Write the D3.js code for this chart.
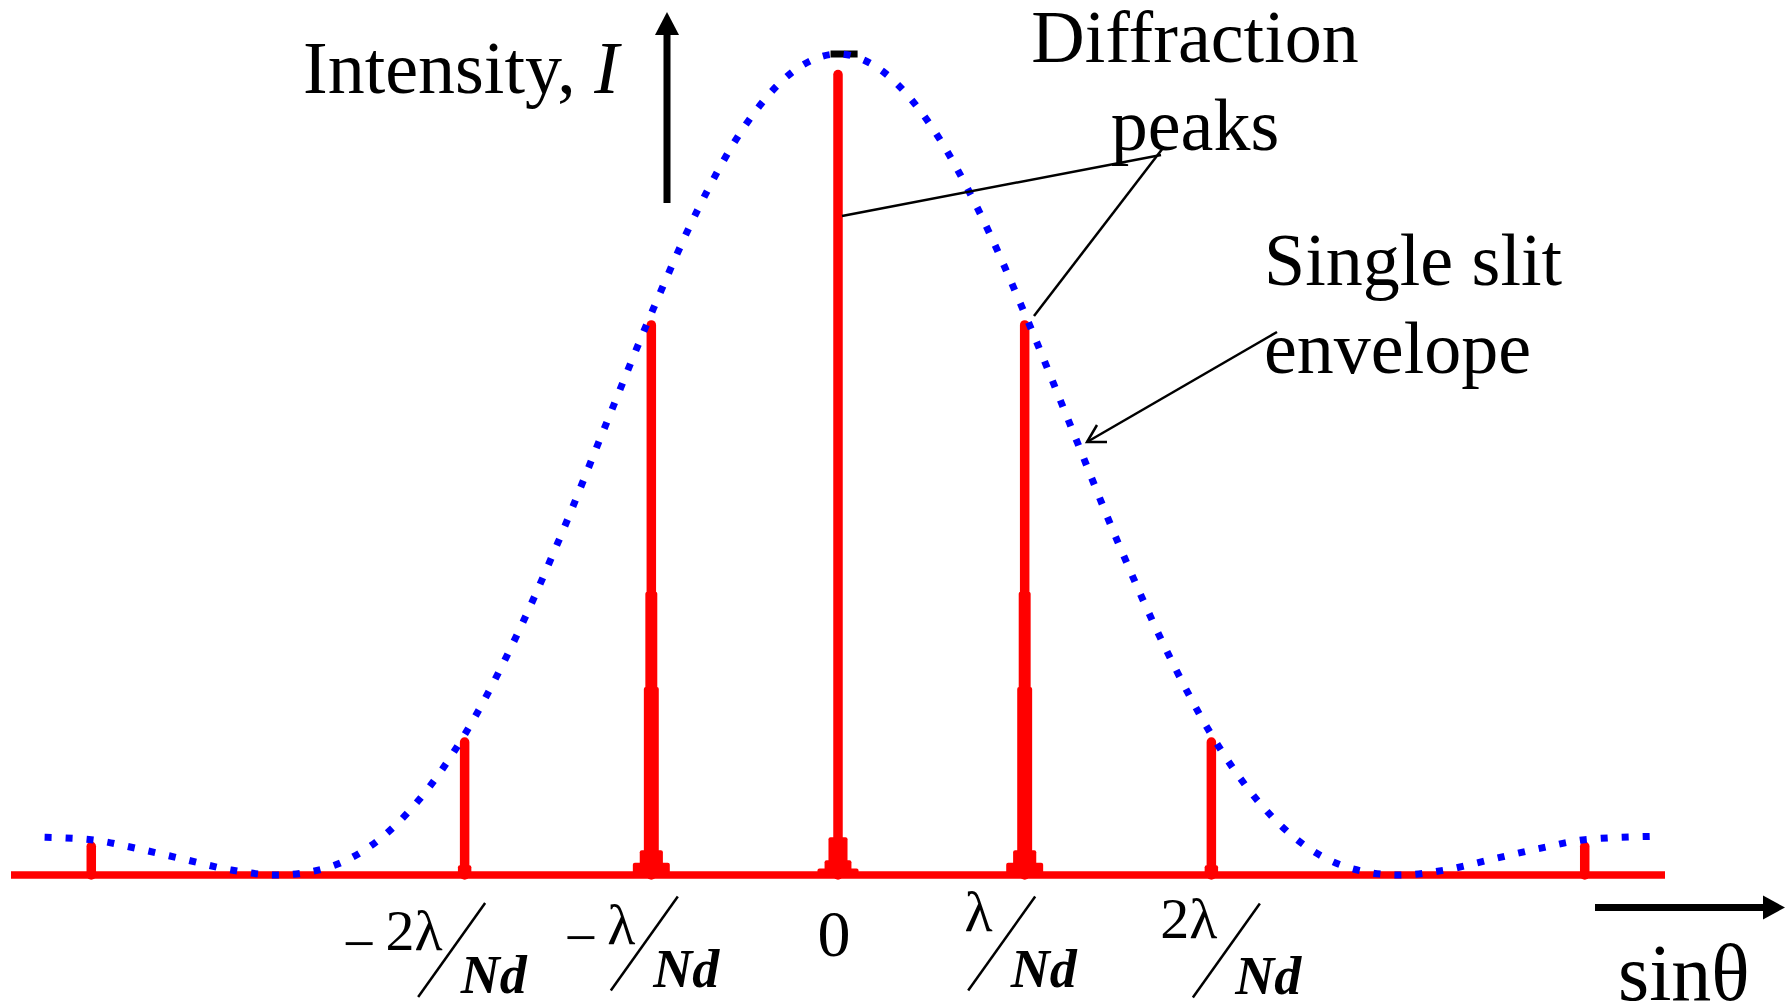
<!DOCTYPE html>
<html>
<head>
<meta charset="utf-8">
<script src="https://cdn.jsdelivr.net/npm/d3@7"></script>
<style>
  body { margin: 0; background: #fff; }
  svg { display: block; background: #fff; }
  text { font-family: 'Liberation Serif', 'Times New Roman', serif; fill: #000; }
</style>
</head>
<body>
<svg id="chart"></svg>
<script>
// x is in units of lambda/(N d), intensity relative to the envelope maximum
const peakOrders = [-4, -2, -1, 0, 1, 2, 4];
const peakIntensity = [0.035, 0.162, 0.67, 0.975, 0.67, 0.162, 0.035];

// broadened foot of the peaks: [order, intensity, half width (orders)]
const peakFeet = [
  [-2, 0.012, 0.036],
  [-1, 0.345, 0.032], [-1, 0.229, 0.04], [-1, 0.03, 0.062], [-1, 0.015, 0.099],
  [0, 0.046, 0.051], [0, 0.018, 0.072], [0, 0.008, 0.11],
  [1, 0.345, 0.032], [1, 0.229, 0.04], [1, 0.03, 0.062], [1, 0.015, 0.099],
  [2, 0.012, 0.036]
];

// single slit envelope
const envOrder = [-4.25, -4, -3.75, -3.5, -3.25, -3, -2.75, -2.5, -2.25, -2, -1.75, -1.5, -1.25, -1,
  -0.75, -0.5, -0.25, 0, 0.25, 0.5, 0.75, 1, 1.25, 1.5, 1.75, 2, 2.25, 2.5, 2.75, 3, 3.25, 3.5,
  3.75, 4, 4.35];
const envIntensity = [0.046, 0.043, 0.032, 0.019, 0.006, 0, 0.008, 0.036, 0.09, 0.171, 0.278, 0.405,
  0.545, 0.684, 0.811, 0.912, 0.977, 1, 0.977, 0.912, 0.811, 0.684, 0.545, 0.405, 0.278, 0.171, 0.09,
  0.036, 0.008, 0, 0.006, 0.019, 0.032, 0.043, 0.047];

const axisExtent = [-4.43, 4.43];

// tick labels
const tickOrders = [-2, -1, 0, 1, 2];
const tickSigns = ['\u2212', '\u2212', '', '', ''];
const tickNumers = ['2\u03bb', '\u03bb', '0', '\u03bb', '2\u03bb'];
const tickDenoms = ['Nd', 'Nd', '', 'Nd', 'Nd'];

const svgW = 1785;
const svgH = 1003;

const svg = d3.select('#chart').attr('width', svgW).attr('height', svgH);

const x = d3.scaleLinear().domain(axisExtent).range([11, 1665]);
const y = d3.scaleLinear().domain([0, 1]).range([875, 54]);

const red = '#ff0000';

// baseline
svg.append('line')
  .attr('x1', x(axisExtent[0])).attr('x2', x(axisExtent[1]))
  .attr('y1', y(0)).attr('y2', y(0))
  .style('stroke', red)
  .style('stroke-width', 7.5);

// diffraction peaks
svg.append('g')
  .selectAll('line')
  .data(peakOrders)
  .enter().append('line')
  .attr('x1', d => x(d)).attr('x2', d => x(d))
  .attr('y1', y(0))
  .attr('y2', (d, i) => y(peakIntensity[i]))
  .style('stroke', red)
  .style('stroke-width', 9.5)
  .style('stroke-linecap', 'round');

svg.append('g')
  .selectAll('rect')
  .data(peakFeet)
  .enter().append('rect')
  .attr('x', d => x(d[0] - d[2]))
  .attr('width', d => x(d[0] + d[2]) - x(d[0] - d[2]))
  .attr('y', d => y(d[1]))
  .attr('height', d => y(0) - y(d[1]))
  .attr('rx', 2)
  .style('fill', red);

// small black mark at the top of the envelope
svg.append('line')
  .attr('x1', x(-0.04)).attr('x2', x(0.105))
  .attr('y1', y(1)).attr('y2', y(1))
  .style('stroke', '#000')
  .style('stroke-width', 7);

// envelope
const envLine = d3.line()
  .x(d => x(d[0]))
  .y(d => y(d[1]))
  .curve(d3.curveMonotoneX);

svg.append('path')
  .datum(d3.zip(envOrder, envIntensity))
  .attr('d', envLine)
  .style('fill', 'none')
  .style('stroke', '#0000ff')
  .style('stroke-width', 7)
  .style('stroke-dasharray', '7 14');

// tick labels
const labelNudge = [-13, -7, -4, -23, 15];
const labelY = [950, 943.5, 956, 943.5, 950.5];
const idx = d => tickOrders.indexOf(d);

const labels = svg.selectAll('.tick-label')
  .data(tickOrders)
  .enter().append('g')
  .attr('class', 'tick-label')
  .attr('transform', (d, i) => `translate(${x(d) + labelNudge[i]},${labelY[i]})`);

labels.filter(d => tickDenoms[idx(d)] === '')
  .append('text')
  .style('text-anchor', 'middle')
  .style('font-size', '66px')
  .text(d => tickNumers[idx(d)]);

const fractions = labels.filter(d => tickDenoms[idx(d)] !== '');

fractions.append('line')
  .attr('x1', -33.5).attr('y1', 47)
  .attr('x2', 33.5).attr('y2', -47)
  .style('stroke', '#000')
  .style('stroke-width', 2.5);

const numer = fractions.append('text')
  .attr('x', -9)
  .attr('y', 0)
  .style('text-anchor', 'end')
  .style('font-size', '58px');

numer.append('tspan')
  .attr('dy', 13)
  .text(d => tickSigns[idx(d)]);

numer.append('tspan')
  .attr('dy', -13)
  .attr('dx', d => tickSigns[idx(d)] ? 10 : 0)
  .text(d => tickNumers[idx(d)]);

fractions.append('text')
  .attr('x', 9)
  .attr('y', 43)
  .style('font-size', '54px')
  .style('font-weight', 'bold')
  .style('font-style', 'italic')
  .text(d => tickDenoms[idx(d)]);

// axis arrows
function arrow(x1, y1, x2, y2, head, halfW) {
  const a = Math.atan2(y2 - y1, x2 - x1);
  const bx = x2 - head * Math.cos(a);
  const by = y2 - head * Math.sin(a);
  svg.append('line')
    .attr('x1', x1).attr('y1', y1).attr('x2', bx).attr('y2', by)
    .style('stroke', '#000')
    .style('stroke-width', 7);
  svg.append('path')
    .attr('d', `M${x2},${y2}L${bx - halfW * Math.sin(a)},${by + halfW * Math.cos(a)}` +
      `L${bx + halfW * Math.sin(a)},${by - halfW * Math.cos(a)}Z`)
    .style('fill', '#000');
}
arrow(667, 203, 667, 12, 23, 12);
arrow(1595, 907.5, 1785, 907.5, 22, 12);

// annotation leaders
const leaders = [
  [842, 216, 1161, 155],
  [1034, 316, 1163, 148],
  [1277, 332, 1087, 442]
];
svg.append('g')
  .selectAll('line')
  .data(leaders)
  .enter().append('line')
  .attr('x1', d => d[0]).attr('y1', d => d[1])
  .attr('x2', d => d[2]).attr('y2', d => d[3])
  .style('stroke', '#000')
  .style('stroke-width', 2.5);

// open arrow head on the envelope pointer
svg.append('path')
  .attr('d', 'M1107,442L1087,442L1097,425')
  .style('fill', 'none')
  .style('stroke', '#000')
  .style('stroke-width', 2.5);

// texts
const yLabel = svg.append('text')
  .attr('x', 303).attr('y', 93)
  .style('font-size', '74px');
yLabel.append('tspan').text('Intensity, ');
yLabel.append('tspan').style('font-style', 'italic').text('I');

svg.append('text')
  .attr('x', 1195).attr('y', 62)
  .style('font-size', '74px')
  .style('text-anchor', 'middle')
  .text('Diffraction');
svg.append('text')
  .attr('x', 1195).attr('y', 150)
  .style('font-size', '74px')
  .style('text-anchor', 'middle')
  .text('peaks');

svg.append('text')
  .attr('x', 1264).attr('y', 285)
  .style('font-size', '74px')
  .text('Single slit');
svg.append('text')
  .attr('x', 1264).attr('y', 373)
  .style('font-size', '74px')
  .text('envelope');

svg.append('text')
  .attr('x', 1618).attr('y', 1000)
  .style('font-size', '80px')
  .text('sin\u03b8');
</script>
</body>
</html>
